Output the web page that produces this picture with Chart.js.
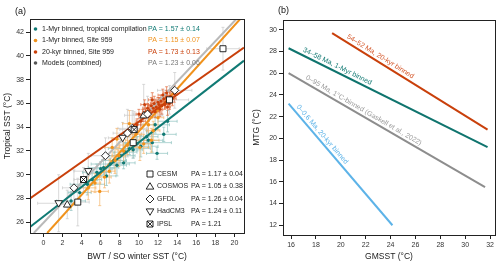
<!DOCTYPE html>
<html>
<head>
<meta charset="utf-8">
<script src="https://cdn.jsdelivr.net/npm/chart.js@4.4.0/dist/chart.umd.min.js"></script>
<style>
html, body { margin: 0; padding: 0; background: #fff; }
#wrap { position: relative; width: 500px; height: 265px; }
canvas { position: absolute; top: 0; }
#chartA { left: 0; }
#chartB { left: 250px; }
</style>
</head>
<body>
<div id="wrap">
  <canvas id="chartA" width="250" height="265"></canvas>
  <canvas id="chartB" width="250" height="265"></canvas>
</div>
<script>
// ---- panel (a) data ----
const xTicksA = [0, 2, 4, 6, 8, 10, 12, 14, 16, 18, 20];
const yTicksA = [26, 28, 30, 32, 34, 36, 38, 40, 42];

// 1-Myr binned, tropical compilation
const tealX = [2.9, 3.8, 4.6, 5.1, 5.6, 6.0, 6.6, 7.0, 7.4, 7.7, 8.1, 8.6, 9.0, 9.4, 9.8, 10.2, 10.8, 11.0, 11.4, 11.9, 11.7, 12.6, 13.0, 6.3, 8.4];
const tealY = [27.8, 28.5, 29.2, 29.6, 30.2, 30.5, 29.9, 30.9, 31.2, 30.8, 31.6, 31.9, 32.2, 32.1, 32.6, 32.4, 33.2, 32.9, 32.7, 31.8, 34.2, 33.4, 34.5, 30.6, 31.0];
const tealXErr = [1.5, 1.2, 1.8, 1.0, 1.5, 1.2, 1.0, 2.0, 1.3, 1.0, 1.5, 1.2, 2.2, 1.0, 1.4, 1.8, 1.2, 1.5, 2.0, 1.1, 1.5, 1.3, 1.0, 1.6, 1.2];
const tealYErr = [0.8, 0.6, 0.9, 0.5, 0.7, 0.6, 0.8, 0.5, 0.7, 0.9, 0.6, 0.8, 0.5, 0.7, 0.6, 0.9, 0.5, 0.6, 0.8, 0.5, 0.7, 0.6, 0.9, 0.6, 0.5];

// 1-Myr binned, Site 959
const orangeX = [4.7, 5.4, 5.9, 6.4, 6.9, 7.2, 7.5, 7.9, 8.4, 8.8, 9.3, 9.7, 10.1, 10.5, 11.0, 11.3, 11.5, 12.0, 7.7, 9.0];
const orangeY = [28.9, 29.3, 28.6, 29.8, 30.3, 32.3, 31.2, 31.6, 32.0, 32.5, 32.9, 33.4, 32.3, 32.6, 34.2, 32.9, 33.7, 34.8, 33.0, 34.3];
const orangeXErr = [0.8, 0.6, 0.9, 0.7, 0.6, 0.8, 0.5, 0.7, 0.6, 0.8, 0.7, 0.6, 0.9, 0.7, 0.6, 0.8, 0.7, 0.6, 0.5, 0.7];
const orangeYErr = [1.0, 0.8, 1.2, 0.9, 1.0, 0.8, 1.1, 0.9, 1.0, 0.8, 0.9, 1.0, 1.1, 0.8, 0.9, 1.0, 0.8, 1.0, 0.9, 1.1];

// 20-kyr binned, Site 959
const redX = [10.4, 10.7, 10.9, 11.1, 11.3, 11.5, 11.6, 11.8, 12.0, 12.1, 12.3, 12.4, 12.6, 12.8, 12.9, 13.1, 13.3, 13.5, 13.7, 11.0, 11.7, 12.2, 12.7, 13.2, 10.2, 9.8, 10.0, 11.4, 12.5, 13.0, 10.6, 12.9];
const redY = [35.0, 35.3, 35.6, 35.4, 35.8, 35.6, 36.0, 35.7, 36.1, 35.9, 36.2, 35.8, 36.4, 36.1, 36.5, 36.3, 36.6, 36.4, 36.8, 34.9, 35.3, 35.5, 35.9, 36.0, 34.5, 34.2, 35.1, 36.3, 36.7, 35.7, 35.9, 36.9];
const redXErr = [0.4, 0.3, 0.5, 0.4, 0.3, 0.5, 0.4, 0.3, 0.4, 0.5, 0.3, 0.4, 0.5, 0.3, 0.4, 0.3, 0.5, 0.4, 0.3, 0.4, 0.5, 0.3, 0.4, 0.3, 0.5, 0.4, 0.3, 0.4, 0.5, 0.3, 0.4, 0.3];
const redYErr = [0.5, 0.6, 0.4, 0.5, 0.7, 0.4, 0.6, 0.5, 0.4, 0.6, 0.5, 0.7, 0.4, 0.5, 0.6, 0.4, 0.5, 0.6, 0.7, 0.4, 0.5, 0.6, 0.4, 0.5, 0.6, 0.5, 0.4, 0.6, 0.5, 0.7, 0.4, 0.5];

// models
const cesmX = [3.6, 9.4, 13.2, 18.8];
const cesmY = [27.7, 32.7, 36.3, 40.6];
const cesmXErr = [1.2, 1.5, 2.0, 1.7];
const cesmYErr = [2.0, 1.3, 1.2, 1.8];
const cosmosX = [2.5, 10.5];
const cosmosY = [27.5, 35.0];
const cosmosXErr = [1.0, 2.0];
const cosmosYErr = [1.2, 2.6];
const gfdlX = [3.2, 6.5, 8.8, 9.3, 10.9, 13.75];
const gfdlY = [28.9, 31.6, 33.5, 33.9, 35.1, 37.1];
const gfdlXErr = [1.2, 1.5, 1.5, 1.5, 1.5, 1.8];
const gfdlYErr = [1.5, 1.5, 2.0, 1.5, 1.5, 1.5];
const hadX = [1.6, 4.7, 8.3];
const hadY = [27.6, 30.3, 33.1];
const hadXErr = [2.2, 1.5, 1.5];
const hadYErr = [2.4, 1.5, 1.3];
const ipslX = [4.2, 9.5];
const ipslY = [29.6, 33.8];
const ipslXErr = [1.0, 1.5];
const ipslYErr = [1.0, 1.5];

// fit lines (end points)
const fitX = [-1.4, 21];
const tealFitY = [25.6, 39.6];
const redFitY = [28.0, 40.7];
const orangeFitX = [0.4, 20.6];
const orangeFitY = [25.1, 43.1];
const grayFitX = [-1.0, 20.2];
const grayFitY = [25.1, 43.1];

const legendLabels = ['1-Myr binned, tropical compilation', '1-Myr binned, Site 959', '20-kyr binned, Site 959', 'Models (combined)'];
const legendPA = ['PA = 1.57 ± 0.14', 'PA = 1.15 ± 0.07', 'PA = 1.73 ± 0.13', 'PA = 1.23 ± 0.06'];
const modelNames = ['CESM', 'COSMOS', 'GFDL', 'HadCM3', 'IPSL'];
const modelPA = ['PA = 1.17 ± 0.04', 'PA = 1.05 ± 0.38', 'PA = 1.26 ± 0.04', 'PA = 1.24 ± 0.11', 'PA = 1.21'];

// ---- panel (b) data ----
const xTicksB = [16, 18, 20, 22, 24, 26, 28, 30, 32];
const yTicksB = [12, 14, 16, 18, 20, 22, 24, 26, 28, 30];
const eoceneX = [19.3, 31.8];
const eoceneY = [29.7, 20.8];
const cenoX = [15.8, 31.8];
const cenoY = [28.3, 19.2];
const gaskellX = [15.8, 31.6];
const gaskellY = [26.0, 15.5];
const quatX = [15.8, 24.15];
const quatY = [23.2, 12.0];
const lineLabelsB = ['54–52 Ma, 20-kyr binned', '34–58 Ma, 1-Myr binned', '0–95 Ma, 1°C-binned (Gaskell et al., 2022)', '0–0.6 Ma, 20-kyr binned'];

// ---- styles ----
const TEAL = '#107a74';
const ORANGE = '#f0921c';
const RED = '#c9400b';
const GRAY_LINE = '#b9b9b9';
const FONT = 'Liberation Sans, Arial, sans-serif';
const TEXT = '#333';

const pts = (xs, ys) => xs.map((v, i) => ({ x: v, y: ys[i] }));

function axisCommon(ticks, title, titlePad) {
  return {
    afterBuildTicks: s => { s.ticks = ticks.map(v => ({ value: v })); },
    grid: { display: true, drawOnChartArea: false, drawTicks: true, tickLength: 4, color: '#222', lineWidth: 1 },
    border: { display: true, color: '#222', width: 1 },
    ticks: { font: { family: FONT, size: 7 }, color: TEXT, padding: 2 },
    title: { display: true, text: title, font: { family: FONT, size: 8.5 }, color: '#222', padding: titlePad }
  };
}

const framePlugin = {
  id: 'frame',
  afterDraw(chart) {
    const { ctx, chartArea: a } = chart;
    ctx.save();
    ctx.strokeStyle = '#222';
    ctx.lineWidth = 1;
    ctx.strokeRect(Math.round(a.left) + 0.5, Math.round(a.top) + 0.5, Math.round(a.right - a.left), Math.round(a.bottom - a.top));
    ctx.fillStyle = '#111';
    ctx.font = '9px ' + FONT;
    ctx.textBaseline = 'middle';
    ctx.textAlign = 'left';
    ctx.fillText(chart.options.panelTag, chart.options.panelTagX, chart.options.panelTagY);
    ctx.restore();
  }
};

const errorBarPlugin = {
  id: 'errorBars',
  beforeDatasetsDraw(chart) {
    const { ctx, chartArea: a, scales: { x, y } } = chart;
    ctx.save();
    ctx.beginPath();
    ctx.rect(a.left, a.top, a.right - a.left, a.bottom - a.top);
    ctx.clip();
    chart.data.datasets.forEach(ds => {
      if (!ds.xErr) return;
      ctx.strokeStyle = ds.errColor;
      ctx.lineWidth = 0.7;
      ds.data.forEach((p, i) => {
        const px = x.getPixelForValue(p.x), py = y.getPixelForValue(p.y);
        const x0 = x.getPixelForValue(p.x - ds.xErr[i]), x1 = x.getPixelForValue(p.x + ds.xErr[i]);
        const y0 = y.getPixelForValue(p.y - ds.yErr[i]), y1 = y.getPixelForValue(p.y + ds.yErr[i]);
        const c = 1.5;
        ctx.beginPath();
        ctx.moveTo(x0, py); ctx.lineTo(x1, py);
        ctx.moveTo(x0, py - c); ctx.lineTo(x0, py + c);
        ctx.moveTo(x1, py - c); ctx.lineTo(x1, py + c);
        ctx.moveTo(px, y0); ctx.lineTo(px, y1);
        ctx.moveTo(px - c, y0); ctx.lineTo(px + c, y0);
        ctx.moveTo(px - c, y1); ctx.lineTo(px + c, y1);
        ctx.stroke();
      });
    });
    ctx.restore();
  }
};

function drawMarker(ctx, kind, cx, cy) {
  ctx.save();
  ctx.fillStyle = '#fff';
  ctx.strokeStyle = '#111';
  ctx.lineWidth = 0.9;
  ctx.beginPath();
  if (kind === 'square' || kind === 'squarex') {
    ctx.rect(cx - 3, cy - 3, 6, 6);
  } else if (kind === 'up') {
    ctx.moveTo(cx, cy - 3.8); ctx.lineTo(cx + 3.8, cy + 2.6); ctx.lineTo(cx - 3.8, cy + 2.6); ctx.closePath();
  } else if (kind === 'down') {
    ctx.moveTo(cx, cy + 3.8); ctx.lineTo(cx + 3.8, cy - 2.6); ctx.lineTo(cx - 3.8, cy - 2.6); ctx.closePath();
  } else if (kind === 'diamond') {
    ctx.moveTo(cx, cy - 4); ctx.lineTo(cx + 4, cy); ctx.lineTo(cx, cy + 4); ctx.lineTo(cx - 4, cy); ctx.closePath();
  }
  ctx.fill();
  ctx.stroke();
  if (kind === 'squarex') {
    ctx.beginPath();
    ctx.moveTo(cx - 3, cy - 3); ctx.lineTo(cx + 3, cy + 3);
    ctx.moveTo(cx + 3, cy - 3); ctx.lineTo(cx - 3, cy + 3);
    ctx.stroke();
  }
  ctx.restore();
}

const legendPluginA = {
  id: 'legendA',
  afterDraw(chart) {
    const { ctx, chartArea: a } = chart;
    const dotColors = [TEAL, ORANGE, RED, '#555'];
    const paColors = [TEAL, ORANGE, RED, '#777'];
    const rows = [10, 21.5, 33, 44];
    ctx.save();
    ctx.font = '7px ' + FONT;
    ctx.textBaseline = 'middle';
    rows.forEach((r, i) => {
      const yy = a.top + r;
      ctx.fillStyle = dotColors[i];
      ctx.beginPath();
      ctx.arc(a.left + 5.5, yy, 1.8, 0, Math.PI * 2);
      ctx.fill();
      ctx.fillStyle = '#222';
      ctx.fillText(legendLabels[i], a.left + 12, yy);
      ctx.fillStyle = paColors[i];
      ctx.fillText(legendPA[i], a.left + 118, yy);
    });
    const kinds = ['square', 'up', 'diamond', 'down', 'squarex'];
    const mrows = [59, 46.5, 34, 21.5, 9];
    mrows.forEach((r, i) => {
      const yy = a.bottom - r;
      drawMarker(ctx, kinds[i], a.left + 120, yy);
      ctx.fillStyle = '#222';
      ctx.font = '7px ' + FONT;
      ctx.textBaseline = 'middle';
      ctx.fillText(modelNames[i], a.left + 127, yy);
      ctx.fillText(modelPA[i], a.left + 161, yy);
    });
    ctx.restore();
  }
};

const modelMarkersPlugin = {
  id: 'modelMarkers',
  afterDatasetsDraw(chart) {
    const { ctx, scales: { x, y } } = chart;
    const sets = [
      ['down', hadX, hadY], ['up', cosmosX, cosmosY], ['diamond', gfdlX, gfdlY],
      ['square', cesmX, cesmY], ['squarex', ipslX, ipslY]
    ];
    sets.forEach(([k, xs, ys]) => {
      xs.forEach((v, i) => drawMarker(ctx, k, x.getPixelForValue(v), y.getPixelForValue(ys[i])));
    });
  }
};

function fitLine(xs, ys, color, order) {
  return { data: pts(xs, ys), showLine: true, borderColor: color, borderWidth: 2, pointRadius: 0, order: order };
}

function scatterSet(xs, ys, xe, ye, color, errColor, r, order) {
  return { data: pts(xs, ys), xErr: xe, yErr: ye, errColor: errColor, showLine: false,
    pointRadius: r, pointBackgroundColor: color, pointBorderWidth: 0, order: order };
}

const chartA = new Chart(document.getElementById('chartA'), {
  type: 'scatter',
  data: {
    datasets: [
      // model error bars only (markers are drawn on top by a plugin)
      { data: pts(cesmX.concat(cosmosX, gfdlX, hadX, ipslX), cesmY.concat(cosmosY, gfdlY, hadY, ipslY)),
        xErr: cesmXErr.concat(cosmosXErr, gfdlXErr, hadXErr, ipslXErr),
        yErr: cesmYErr.concat(cosmosYErr, gfdlYErr, hadYErr, ipslYErr),
        errColor: '#c8c8c8', pointRadius: 0, order: 10 },
      scatterSet(tealX, tealY, tealXErr, tealYErr, TEAL, '#8cc2be', 1.7, 3),
      scatterSet(orangeX, orangeY, orangeXErr, orangeYErr, ORANGE, '#f5b46a', 1.7, 2),
      scatterSet(redX, redY, redXErr, redYErr, RED, '#e06a3c', 1.5, 1),
      fitLine(grayFitX, grayFitY, GRAY_LINE, 6),
      fitLine(orangeFitX, orangeFitY, ORANGE, 5),
      fitLine(fitX, tealFitY, TEAL, 4),
      fitLine(fitX, redFitY, RED, 4)
    ]
  },
  options: {
    responsive: false,
    animation: false,
    panelTag: '(a)', panelTagX: 15, panelTagY: 12,
    layout: { padding: { top: 19, right: 6, left: 0, bottom: 0 } },
    plugins: { legend: { display: false }, tooltip: { enabled: false } },
    scales: {
      x: Object.assign(axisCommon(xTicksA, 'BWT / SO winter SST (°C)', { top: 0, bottom: 3 }),
        { min: -1.4, max: 21, afterFit: s => { s.height = 32; } }),
      y: Object.assign(axisCommon(yTicksA, 'Tropical SST (°C)', { top: 3, bottom: 0 }),
        { min: 25.1, max: 43.1, afterFit: s => { s.width = 30; } })
    }
  },
  plugins: [errorBarPlugin, modelMarkersPlugin, framePlugin, legendPluginA]
});

// ---- panel (b) ----
const bColors = ['#c9400b', '#0f746e', '#8d8d8d', '#5db3e8'];
const bLabelColors = ['#d5572a', '#137a74', '#9a9a9a', '#5db3e8'];
const bLabelStart = [20.3, 16.8, 17.0, 16.2];

const lineLabelPlugin = {
  id: 'lineLabels',
  afterDatasetsDraw(chart) {
    const { ctx, scales: { x, y } } = chart;
    ctx.save();
    ctx.font = '7px ' + FONT;
    ctx.textBaseline = 'bottom';
    ctx.textAlign = 'left';
    chart.data.datasets.forEach((ds, i) => {
      const p0 = ds.data[0], p1 = ds.data[1];
      const lx = bLabelStart[i];
      const ly = p0.y + (p1.y - p0.y) * (lx - p0.x) / (p1.x - p0.x);
      const ang = Math.atan2(y.getPixelForValue(p1.y) - y.getPixelForValue(p0.y), x.getPixelForValue(p1.x) - x.getPixelForValue(p0.x));
      ctx.save();
      ctx.translate(x.getPixelForValue(lx), y.getPixelForValue(ly));
      ctx.rotate(ang);
      ctx.fillStyle = bLabelColors[i];
      ctx.fillText(lineLabelsB[i], 0, -2);
      ctx.restore();
    });
    ctx.restore();
  }
};

const chartB = new Chart(document.getElementById('chartB'), {
  type: 'scatter',
  data: {
    datasets: [
      { data: pts(eoceneX, eoceneY), showLine: true, borderColor: bColors[0], borderWidth: 2, pointRadius: 0 },
      { data: pts(cenoX, cenoY), showLine: true, borderColor: bColors[1], borderWidth: 2, pointRadius: 0 },
      { data: pts(gaskellX, gaskellY), showLine: true, borderColor: bColors[2], borderWidth: 2, pointRadius: 0 },
      { data: pts(quatX, quatY), showLine: true, borderColor: bColors[3], borderWidth: 2, pointRadius: 0 }
    ]
  },
  options: {
    responsive: false,
    animation: false,
    panelTag: '(b)', panelTagX: 28, panelTagY: 11,
    layout: { padding: { top: 20, right: 5, left: 0, bottom: 0 } },
    plugins: { legend: { display: false }, tooltip: { enabled: false } },
    scales: {
      x: Object.assign(axisCommon(xTicksB, 'GMSST (°C)', { top: 0, bottom: 3 }),
        { min: 15.35, max: 32.4, afterFit: s => { s.height = 30; } }),
      y: Object.assign(axisCommon(yTicksB, 'MTG (°C)', { top: 2, bottom: 0 }),
        { min: 11.1, max: 30.9, afterFit: s => { s.width = 33; } })
    }
  },
  plugins: [framePlugin, lineLabelPlugin]
});
</script>
</body>
</html>
